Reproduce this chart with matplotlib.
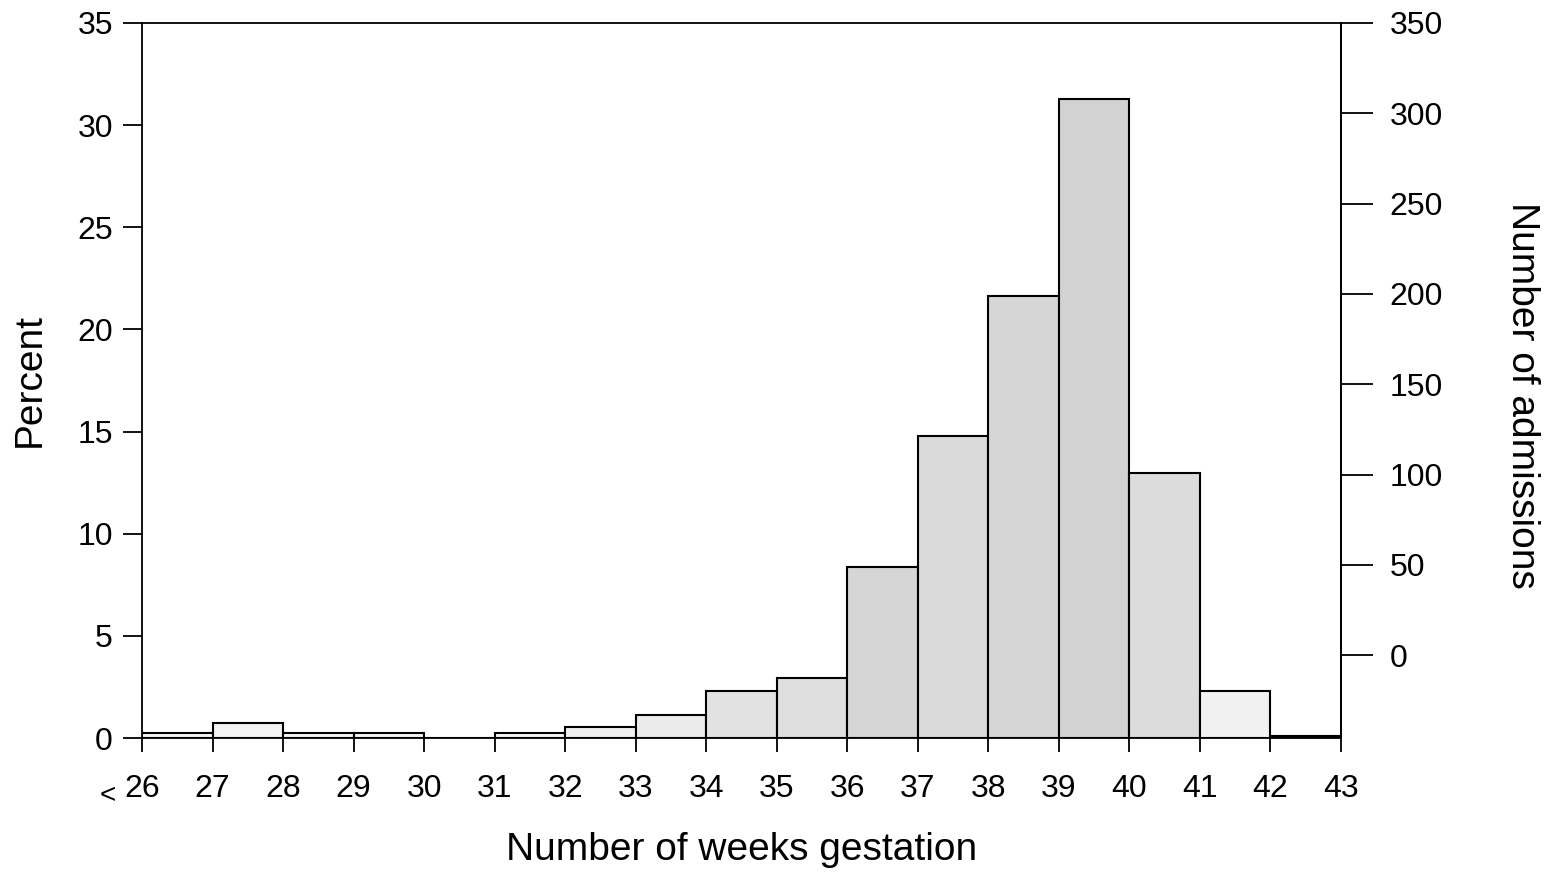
import matplotlib
matplotlib.use("Agg")
import matplotlib.pyplot as plt
import numpy as np

plt.rcParams['font.family'] = ['Liberation Sans', 'DejaVu Sans']

# Gestation week bins (left edges) and percentage of admissions in each bin
week_edges = [26, 27, 28, 29, 30, 31, 32, 33, 34, 35, 36, 37, 38, 39, 40, 41, 42, 43]
percent = [0.24, 0.73, 0.24, 0.24, 0.0, 0.24, 0.54, 1.13, 2.3, 2.94,
           8.37, 14.78, 21.63, 31.3, 12.97, 2.3, 0.1]
# Stipple shade of each bar (lighter for sparse bins)
shades = ['#f6f6f6', '#f3f3f3', '#f6f6f6', '#f6f6f6', '#ffffff', '#f6f6f6', '#f0f0f0',
          '#ebebeb', '#e2e2e2', '#dedede', '#d6d6d6', '#dadada', '#d6d6d6',
          '#d2d2d2', '#dcdcdc', '#f1f1f1', '#f6f6f6']

left_ticks = [0, 5, 10, 15, 20, 25, 30, 35]
right_ticks = [0, 50, 100, 150, 200, 250, 300, 350]

W, H = 1556, 875
fig = plt.figure(figsize=(W / 100, H / 100), dpi=100)
x0, x1, y0, y1 = 142, 1341, 738, 23
ax = fig.add_axes([x0 / W, 1 - y0 / H, (x1 - x0) / W, (y0 - y1) / H])

lefts = np.array(week_edges[:-1])
ax.bar(lefts, percent, width=1.0, align='edge', color=shades,
       edgecolor='black', linewidth=1.5, zorder=3)

ax.set_xlim(26, 43)
ax.set_ylim(0, 35)
ax.set_xticks(week_edges)
ax.set_xticklabels([str(w) for w in week_edges])
ax.set_yticks(left_ticks)

for s in ax.spines.values():
    s.set_linewidth(1.3)
ax.tick_params(axis='x', direction='out', length=10, width=1.3, labelsize=23, pad=16)
ax.tick_params(axis='y', direction='out', length=14, width=1.3, labelsize=23, pad=7)

# Less-than marker under the first bin
fig.text(108 / W, 1 - 796 / H, '<', fontsize=20, ha='center', va='center')

# Right-hand axis for admission counts
ax2 = ax.twinx()
ax2.set_ylim(-45.9, 350)
ax2.set_yticks(right_ticks)
ax2.spines['right'].set_linewidth(1.3)
ax2.spines['top'].set_visible(False)
ax2.spines['left'].set_visible(False)
ax2.spines['bottom'].set_visible(False)
ax2.tick_params(axis='y', direction='out', length=23, width=1.3, labelsize=23, pad=12)

# Axis titles
fig.text(((x0 + x1) / 2) / W, 1 - 850 / H, 'Number of weeks gestation',
         fontsize=28, ha='center', va='center')
fig.text(30 / W, 1 - 380 / H, 'Percent', fontsize=28, rotation=90,
         ha='center', va='center')
fig.text(1522 / W, 1 - 395 / H, 'Number of admissions', fontsize=28, rotation=270,
         ha='center', va='center')

fig.savefig('out.png', dpi=100, facecolor='white')
